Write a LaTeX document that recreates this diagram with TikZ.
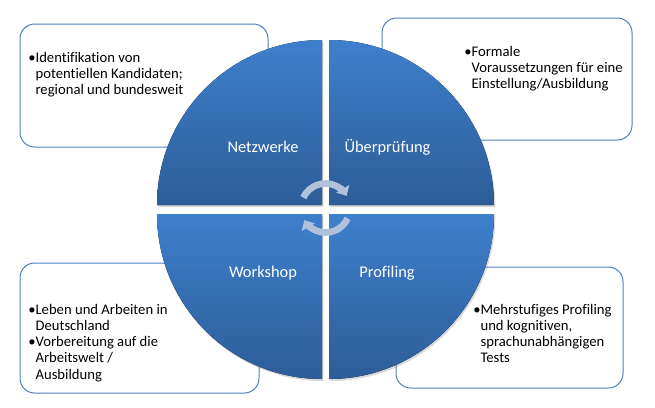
\documentclass[tikz,border=0pt]{standalone}
\usepackage{fontspec}
\setmainfont{Carlito}[Ligatures=NoCommon]
\usetikzlibrary{arrows.meta,shadows}

\definecolor{boxline}{RGB}{79,129,189}
\definecolor{quadtop}{RGB}{62,127,204}
\definecolor{quadbot}{RGB}{45,93,152}
\definecolor{cycleblue}{RGB}{176,193,220}

\begin{document}
\begin{tikzpicture}[
    x=0.75pt, y=-0.75pt,
    info/.style={draw=boxline, fill=white, rounded corners=11pt, line width=0.75pt},
    quarter/.style={top color=quadtop, bottom color=quadbot, drop shadow={shadow xshift=1pt, shadow yshift=-1.5pt, opacity=0.3}},
    phase/.style={anchor=base, text=white, font=\fontsize{12.3}{14}\selectfont},
    note/.style={anchor=base west, inner sep=0pt, font=\fontsize{11}{12.2}\selectfont},
    turn/.style={line width=5pt, draw=cycleblue, -{Triangle[width=11pt,length=6pt]}}
]
    \useasboundingbox (0,0) rectangle (655,407);
    \fill[white] (0,0) rectangle (655,407);

    \draw[info] (20,24) rectangle (268,147);
    \draw[info] (382,18) rectangle (632,140);
    \draw[info] (20,263) rectangle (259,393);
    \draw[info] (396,267) rectangle (623,388);

    \fill[quarter] (322,205) -- (157,205) arc[start angle=180, end angle=270, radius=165] -- cycle;
    \fill[quarter] (329,205) -- (329,40) arc[start angle=270, end angle=360, radius=165] -- cycle;
    \fill[quarter] (322,214) -- (157,214) arc[start angle=180, end angle=90, radius=165] -- cycle;
    \fill[quarter] (329,214) -- (494,214) arc[start angle=0, end angle=90, radius=165] -- cycle;

    \node[phase] (netz) at (263,152) {Netzwerke};
    \node[phase] (pruef) at (387.5,152) {Überprüfung};
    \node[phase] (work) at (263,277) {Workshop};
    \node[phase] (prof) at (387,277) {Profiling};

    \coordinate (hub) at (325.5,208);
    \draw[turn] (hub) ++(-155:24.5) arc[start angle=-155, end angle=-30, radius=24.5];
    \draw[turn] (hub) ++(25:24.5) arc[start angle=25, end angle=150, radius=24.5];

    \node[note] (netzinfo) at (28,62) {\begin{tabular}[t]{@{}l@{}l@{}}\textbullet&Identifikation von\\&potentiellen Kandidaten;\\&regional und bundesweit\end{tabular}};
    \node[note] (pruefinfo) at (464,56) {\begin{tabular}[t]{@{}l@{}l@{}}\textbullet&Formale\\&Voraussetzungen für eine\\&Einstellung/Ausbildung\end{tabular}};
    \node[note] (workinfo) at (28,314) {\begin{tabular}[t]{@{}l@{}l@{}}\textbullet&Leben und Arbeiten in\\&Deutschland\\\textbullet&Vorbereitung auf die\\&Arbeitswelt /\\&Ausbildung\end{tabular}};
    \node[note] (profinfo) at (473,314) {\begin{tabular}[t]{@{}l@{}l@{}}\textbullet&Mehrstufiges Profiling\\&und kognitiven,\\&sprachunabhängigen\\&Tests\end{tabular}};
\end{tikzpicture}
\end{document}
